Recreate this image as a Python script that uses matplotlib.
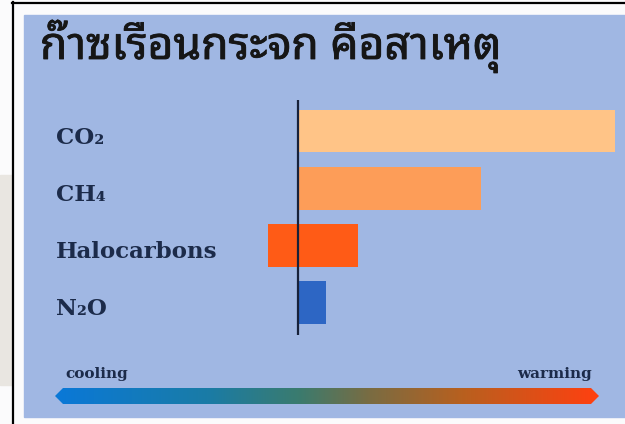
import matplotlib
matplotlib.use("Agg")
import matplotlib.pyplot as plt
import matplotlib.patheffects as pe
import numpy as np
from matplotlib import font_manager
from matplotlib.ft2font import FT2Font
from matplotlib.patches import Rectangle, Polygon
from matplotlib.colors import LinearSegmentedColormap
from matplotlib.transforms import blended_transform_factory

# ---------------- data ----------------
title = "ก๊าซเรือนกระจก คือสาเหตุ"
categories = ["CO₂", "CH₄", "Halocarbons", "N₂O"]
warming_values = [1.68, 0.97, 0.32, 0.15]
cooling_values = [0.0, 0.0, -0.16, 0.0]
bar_colors = ["#ffc487", "#fd9d58", "#ff5b16", "#2d66c4"]
scale_left_label = "cooling"
scale_right_label = "warming"

# ---------------- find a Thai-capable font ----------------
def find_thai_family():
    preferred = ["Noto Sans Thai Looped", "Loma", "Garuda", "Noto Sans Thai",
                 "Noto Sans Thai UI", "Kinnari", "Norasi", "Tlwg Typo", "Sarabun"]
    found = []
    for f in font_manager.fontManager.ttflist:
        try:
            cm = FT2Font(f.fname).get_charmap()
            if 0x0E01 in cm and 0x0E32 in cm:
                found.append(f.name)
        except Exception:
            pass
    for p in preferred:
        if p in found:
            return p
    return found[0] if found else None

thai = find_thai_family()
title_family = [thai, "DejaVu Sans"] if thai else ["DejaVu Sans"]

W, H = 625, 424
fig = plt.figure(figsize=(W / 100, H / 100), dpi=100, facecolor="#fbfbfc")

# background / decoration layer in pixel coordinates
bg = fig.add_axes([0, 0, 1, 1])
bg.set_xlim(0, W)
bg.set_ylim(H, 0)
bg.axis("off")
bg.add_patch(Rectangle((0, 175), 12, 210, color="#e9e6e1", zorder=0))
bg.plot([12.5, 12.5], [2, H], color="black", lw=1.6, zorder=1)
bg.plot([12, W], [2.5, 2.5], color="black", lw=1.6, zorder=1)
bg.add_patch(Rectangle((24, 15), W - 24, 402, color="#a0b7e3", zorder=1))

bg.text(40, 59, title, fontsize=32, color="#161616",
        family=title_family, ha="left", va="baseline", zorder=3,
        path_effects=[pe.withStroke(linewidth=0.6, foreground="#161616")])

# gradient arrow
cmap = LinearSegmentedColormap.from_list(
    "cw", [(0.0, "#0a78d8"), (0.28, "#1a7ca6"), (0.45, "#3b7b6e"),
           (0.58, "#7a6c42"), (0.75, "#b8601f"), (1.0, "#ff4010")])
grad = np.linspace(0, 1, 256).reshape(1, -1)
im = bg.imshow(grad, cmap=cmap, extent=[55, 599, 404, 388], aspect="auto", zorder=2)
arrow = Polygon([(55, 396), (63, 388), (591, 388), (599, 396), (591, 404), (63, 404)],
                closed=True, transform=bg.transData, facecolor="none", edgecolor="none")
bg.add_patch(arrow)
im.set_clip_path(arrow)
bg.text(65, 374, scale_left_label, fontsize=11, fontweight="bold", family="DejaVu Serif",
        color="#1c2b4a", ha="left", va="center", zorder=3)
bg.text(592, 374, scale_right_label, fontsize=11, fontweight="bold", family="DejaVu Serif",
        color="#1c2b4a", ha="right", va="center", zorder=3)

# bar chart axes
xmin, xmax = -0.5, 1.7
pxu = 317 / 1.68
left_px = 298 + xmin * pxu
right_px = 298 + xmax * pxu
top_px, bot_px = 100, 335
ax = fig.add_axes([left_px / W, (H - bot_px) / H, (right_px - left_px) / W, (bot_px - top_px) / H])
ax.set_facecolor("none")
ypos = np.arange(len(categories))
ax.barh(ypos, warming_values, height=0.74, color=bar_colors, zorder=2)
ax.barh(ypos, cooling_values, height=0.74, color=bar_colors, zorder=2)
ax.axvline(0, color="#17213a", lw=1.6, zorder=3)
ax.set_xlim(xmin, xmax)
ax.set_ylim(3.57, -0.55)
for s in ax.spines.values():
    s.set_visible(False)
ax.set_xticks([])
ax.set_yticks([])

tr = blended_transform_factory(fig.transFigure, ax.transData)
for i, c in enumerate(categories):
    ax.text(56 / W, i + 0.12, c, transform=tr, fontsize=16.5, fontweight="bold",
            family="DejaVu Serif", color="#1c2b4a", ha="left", va="center")

fig.savefig("out.png", dpi=100, facecolor=fig.get_facecolor())
